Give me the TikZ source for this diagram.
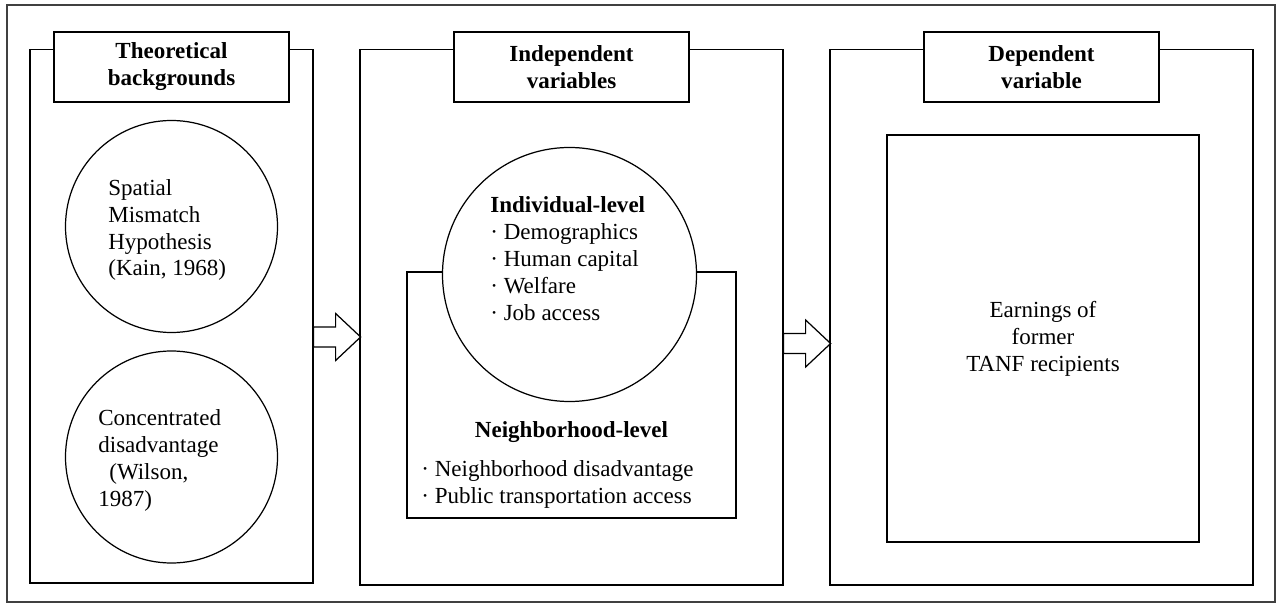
\documentclass[tikz,border=0pt]{standalone}
\usepackage{fontspec}
\setmainfont{Liberation Serif}
\usetikzlibrary{positioning}

% one pixel of the layout
\newlength\pix
\setlength\pix{0.02cm}

\tikzset{
  panel/.style={draw, line width=0.7pt, inner sep=0pt},
  titlebox/.style={draw, fill=white, line width=0.7pt, font=\bfseries, align=center,
    minimum width=235\pix, minimum height=70\pix, inner sep=0pt},
  bubble/.style={draw, circle, fill=white, line width=0.7pt, inner sep=0pt},
  txt/.style={align=left, inner sep=0pt},
  blockarrow/.style={draw, fill=white, line width=0.7pt, line join=miter}
}

% hollow block arrow, #1 = tail point
\newcommand\hollowarrow[1]{%
  \draw[blockarrow] (#1) ++(0,-10) -- ++(22,0) -- ++(0,-13.5) -- ++(25,23.5)
    -- ++(-25,23.5) -- ++(0,-13.5) -- ++(-22,0) -- cycle;}

\begin{document}
\fontsize{13.1}{15.35}\selectfont
\begin{tikzpicture}[x=\pix, y=-\pix]
  \useasboundingbox (0,0) rectangle (1277,604);

  % outer frame
  \draw[line width=1pt, black!75] (7,5) rectangle (1275,602);

  % three panels
  \node[panel, minimum width=283\pix, minimum height=533.5\pix] (theory) at (171.5,316.25) {};
  \node[panel, minimum width=423\pix, minimum height=535.5\pix] (indep) at (571.5,317.25) {};
  \node[panel, minimum width=423\pix, minimum height=535.5\pix] (dep) at (1041.5,317.25) {};

  % panel titles
  \node[titlebox] (theorytitle) at (theory.north |- 0,67) {Theoretical\\backgrounds};
  \node[titlebox] (indeptitle) at (indep.north |- 0,67) {Independent\\variables};
  \node[titlebox] (deptitle) at (dep.north |- 0,67) {Dependent\\variable};

  % theories (base = last line)
  \node[bubble, minimum size=212\pix] (sma) at (171.5,226.5) {};
  \node[bubble, minimum size=212\pix] (conc) at (171.5,457) {};
  \node[txt, anchor=base west] (smatext) at (108,276) {Spatial\\Mismatch\\Hypothesis\\(Kain, 1968)};
  \node[txt, anchor=base west] (conctext) at (98,506) {Concentrated\\disadvantage\\\hspace*{0.22cm}(Wilson,\\1987)};

  % individual and neighborhood levels
  \node[panel, minimum width=329\pix, minimum height=246\pix] (nbhd) at (571.5,395) {};
  \node[bubble, minimum size=254\pix] (indiv) at (569.5,274.5) {};
  \node[txt, anchor=base west] (indivtext) at (490,320)
    {\textbf{Individual-level}\\· Demographics\\· Human capital\\· Welfare\\· Job access};
  \node[font=\bfseries, anchor=base, inner sep=0pt] (nbhdhead) at (nbhd.center |- 0,437) {Neighborhood-level};
  \node[txt, anchor=base west] (nbhdtext) at (421,503)
    {· Neighborhood disadvantage\\· Public transportation access};

  % outcome
  \node[panel, minimum width=312\pix, minimum height=407\pix] (earn) at (1043,338.5) {};
  \node[align=center, inner sep=0pt] (earntext) at (earn.center) {Earnings of\\former\\TANF recipients};

  % arrows between panels
  \coordinate (a1) at (theory.east |- 0,337);
  \coordinate (a2) at (indep.east |- 0,343.5);
  \hollowarrow{a1}
  \hollowarrow{a2}
\end{tikzpicture}
\end{document}
